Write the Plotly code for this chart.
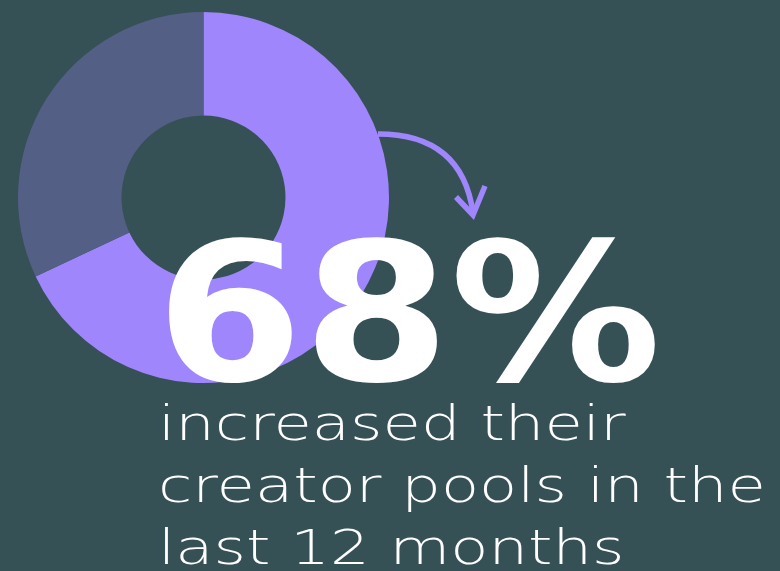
import json
import plotly.graph_objects as go

W, H = 780, 571

# data
labels = ["Increased", "Did not increase"]
values = [68, 32]
colors = ["#9f86fd", "#535f85"]
headline = "68%"
caption_lines = ["increased their", "creator pools in the", "last 12 months"]

BG = "#365155"

def px(x):
    return x / W

def py(y):
    return 1 - y / H

fig = go.Figure()
fig.add_trace(go.Pie(
    labels=labels, values=values, sort=False, direction="clockwise", rotation=0,
    hole=0.442, marker=dict(colors=colors, line=dict(width=0)),
    textinfo="none", hoverinfo="label+percent", showlegend=False,
    domain=dict(x=[px(18), px(389)], y=[py(383), py(12)]),
))

# curved arrow
arrow_col = colors[0]
p = lambda x, y: f"{px(x):.5f},{py(y):.5f}"
fig.add_shape(type="path", xref="paper", yref="paper",
              path=f"M {p(378,134)} Q {p(462,134)} {p(473,213)}",
              line=dict(color=arrow_col, width=5.5), layer="above")
fig.add_shape(type="path", xref="paper", yref="paper",
              path=f"M {p(456,197)} L {p(473,215)} L {p(485,186)}",
              line=dict(color=arrow_col, width=5.5), layer="above")

fig.add_annotation(text=headline, xref="paper", yref="paper",
                   x=px(154), y=py(313), xanchor="left", yanchor="middle", align="left",
                   showarrow=False,
                   font=dict(family="DejaVu Sans", size=192, color="white", weight="bold"))

for i, line in enumerate(caption_lines):
    fig.add_annotation(text=line, xref="paper", yref="paper",
                       x=px(156), y=py(423 + 62 * i), xanchor="left", yanchor="middle",
                       align="left", showarrow=False,
                       font=dict(family="DejaVu Sans", size=48, color="white", weight=200))

fig.update_layout(width=W, height=H, margin=dict(l=0, r=0, t=0, b=0),
                  paper_bgcolor=BG, plot_bgcolor=BG, showlegend=False)

# horizontal stretch to imitate the extended display typeface of the original
stretch = {headline: 1.10}
for line in caption_lines:
    stretch[line] = 1.30

post = """
var gd = document.getElementById('{plot_id}');
var S = %s;
gd.querySelectorAll('text.annotation-text').forEach(function(t){
  var k = S[t.textContent];
  if(!k) return;
  var b = t.getBBox();
  var prev = t.getAttribute('transform') || '';
  t.setAttribute('transform', prev + ' translate(' + b.x + ',0) scale(' + k + ',1) translate(' + (-b.x) + ',0)');
});
""" % json.dumps(stretch)

fig.write_html("out.html", config=dict(displayModeBar=False), post_script=post)
